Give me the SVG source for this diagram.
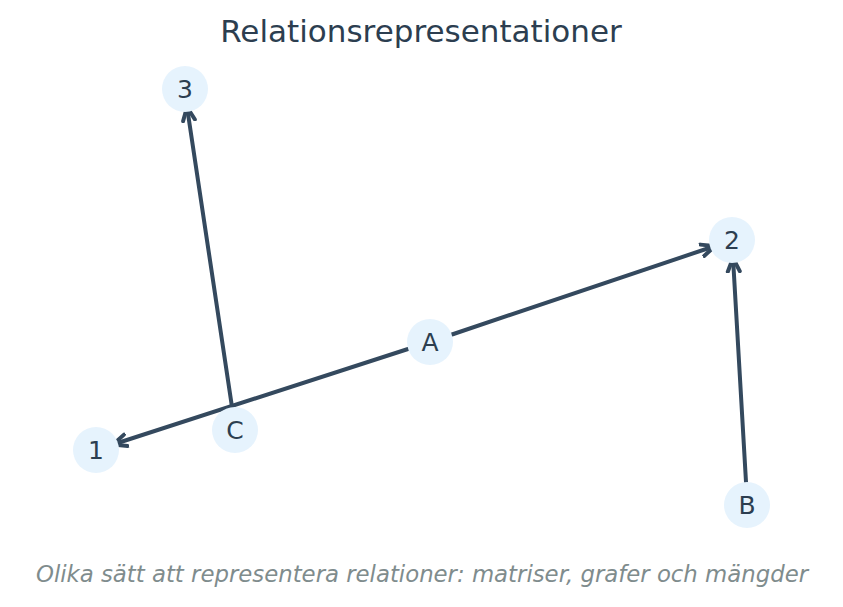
<svg xmlns="http://www.w3.org/2000/svg" width="843" height="607" viewBox="0 0 843 607">
<style>
.node circle{fill:#e6f3fd;}
.node text{font-family:"DejaVu Sans",sans-serif;font-size:25px;fill:#2c3e50;text-anchor:middle;dominant-baseline:central;}
.edge{stroke:#34495e;stroke-width:4;fill:none;marker-end:url(#arr);stroke-linecap:round;}
.title{font-family:"DejaVu Sans",sans-serif;font-size:31px;fill:#2c3e50;text-anchor:middle;}
.sub{font-family:"DejaVu Sans",sans-serif;font-style:italic;font-size:22.8px;fill:#7f8c8d;text-anchor:middle;}
</style>
<defs>
<marker id="arr" markerUnits="userSpaceOnUse" markerWidth="30" markerHeight="30" refX="0" refY="0" viewBox="-15 -15 30 30" orient="auto">
<path d="M-13.5,-6 L0,0 L-13.5,6" fill="none" stroke="#34495e" stroke-width="4" stroke-linejoin="miter" stroke-linecap="round"/>
</marker>
</defs>
<rect width="843" height="607" fill="#ffffff"/>
<text class="title" x="421" y="42">Relationsrepresentationer</text>
<g id="connectors">
<line class="edge" x1="452" y1="334.5" x2="715" y2="246"/>
<line class="edge" x1="408" y1="349" x2="113" y2="444.5"/>
<line class="edge" x1="232" y1="407" x2="187" y2="107"/>
<line class="edge" x1="746" y1="482" x2="733" y2="258"/>
</g>
<g id="node-3" class="node"><circle cx="185" cy="89" r="23"/><text x="185" y="89">3</text></g>
<g id="node-2" class="node"><circle cx="732" cy="240" r="23"/><text x="732" y="240">2</text></g>
<g id="node-A" class="node"><circle cx="430" cy="342" r="23"/><text x="430" y="342">A</text></g>
<g id="node-C" class="node"><circle cx="235" cy="430" r="23"/><text x="235" y="430">C</text></g>
<g id="node-1" class="node"><circle cx="96" cy="450" r="23"/><text x="96" y="450">1</text></g>
<g id="node-B" class="node"><circle cx="747" cy="505" r="23"/><text x="747" y="505">B</text></g>
<text class="sub" x="422" y="582">Olika sätt att representera relationer: matriser, grafer och mängder</text>
</svg>
